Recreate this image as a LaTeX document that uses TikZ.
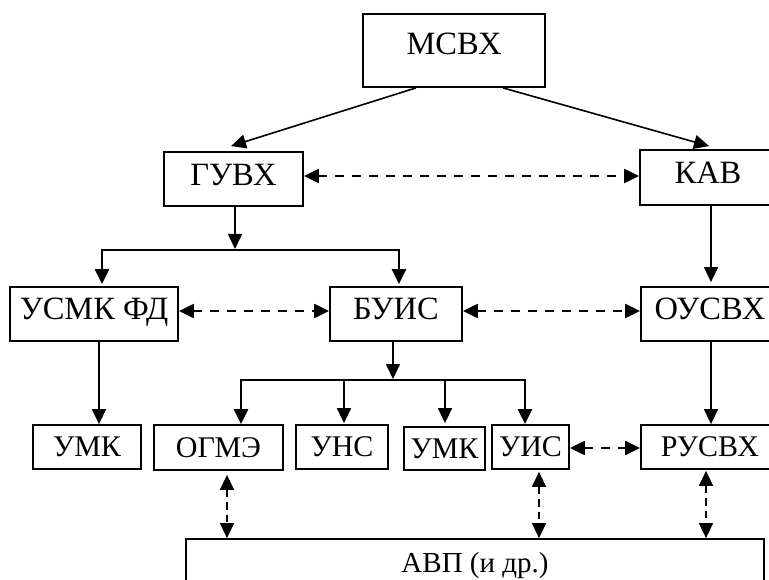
\documentclass[tikz,border=0pt]{standalone}
\usepackage{fontspec}
\setmainfont{Liberation Serif}
\usetikzlibrary{arrows.meta,calc}

\tikzset{
  box/.style={draw, line width=1.8pt, inner sep=0pt, align=center},
  bigtxt/.style={font=\fontsize{32.5}{38}\selectfont, text height=21.5pt},
  smalltxt/.style={font=\fontsize{30}{35}\selectfont, text height=19.9pt, text depth=0pt},
  arr/.style={line width=1.6pt, -{Triangle[length=15pt,width=14pt]}},
  tbar/.style={line width=2.6pt, line join=miter,
    {Triangle[length=15pt,width=14pt]}-{Triangle[length=15pt,width=14pt]}},
  darr/.style={line width=2.2pt, dash pattern=on 9pt off 8pt,
    {Triangle[length=15pt,width=14pt]}-{Triangle[length=15pt,width=14pt]}},
  vdarr/.style={line width=1.6pt, dash pattern=on 7.5pt off 5pt,
    {Triangle[length=15pt,width=14pt]}-{Triangle[length=15pt,width=14pt]}},
}

\begin{document}
\begin{tikzpicture}[x=1pt,y=-1pt]
  \useasboundingbox (0,0) rectangle (769,580);
  \clip (0,0) rectangle (769,580);

  % top level
  \node[box,bigtxt,text depth=13pt,minimum width=182pt,minimum height=73pt] (mcvx) at (454,50.5) {МСВХ};

  % second level
  \node[box,bigtxt,text depth=9pt,minimum width=139pt,minimum height=54pt] (guvx) at (233.5,179) {ГУВХ};
  \node[box,bigtxt,text depth=9pt,minimum width=136pt,minimum height=55pt] (kav) at (708,177.5) {КАВ};

  % third level
  \node[box,bigtxt,text depth=10pt,minimum width=168pt,minimum height=54pt] (usmk) at (94,314) {УСМК ФД};
  \node[box,bigtxt,text depth=10pt,minimum width=132pt,minimum height=54pt] (buis) at (396,314) {БУИС};
  \node[box,bigtxt,text depth=10pt,minimum width=138pt,minimum height=54pt] (ousvx) at (710,314) {ОУСВХ};

  % fourth level
  \node[box,smalltxt,minimum width=108pt,minimum height=44pt] (umk1) at (87,447) {УМК};
  \node[box,smalltxt,minimum width=129pt,minimum height=45pt] (ogme) at (218.5,447.5) {ОГМЭ};
  \node[box,smalltxt,minimum width=92pt,minimum height=44pt] (uns) at (342,447) {УНС};
  \node[box,smalltxt,minimum width=81pt,minimum height=43pt] (umk2) at (444.5,448.5) {УМК};
  \node[box,smalltxt,minimum width=77pt,minimum height=44pt] (uis) at (530.5,447) {УИС};
  \node[box,smalltxt,minimum width=138pt,minimum height=44pt] (rusvx) at (710,447) {РУСВХ};

  % bottom block
  \node[box,font=\fontsize{29}{34}\selectfont,text height=19.2pt,text depth=0pt,
        minimum width=578pt,minimum height=47pt] (avp) at (475,562.5) {АВП (и др.)};

  % branching points
  \coordinate (f1) at (235,250);
  \coordinate (b1l) at (102,250);
  \coordinate (b1r) at (399,250);
  \coordinate (f2) at (393,380);
  \coordinate (b2l) at (241,380);
  \coordinate (b2r) at (525,380);

  % subordination
  \draw[arr] ([xshift=-38pt]mcvx.south) -- ([xshift=-2.5pt,yshift=5pt]guvx.north);
  \draw[arr] ([xshift=49pt]mcvx.south) -- ([xshift=1pt,yshift=3pt]kav.north);

  \draw[arr] (guvx.south -| f1) -- ([yshift=1pt]f1);
  \draw[tbar] ([yshift=2pt]usmk.north -| b1l) -- (b1l) -- (b1r) -- ([yshift=2pt]buis.north -| b1r);

  \draw[arr] ([xshift=3pt]kav.south) -- ([xshift=3pt,yshift=4pt]kav.south |- ousvx.north);

  \draw[arr] ([xshift=5pt]usmk.south) -- ([xshift=5pt]usmk.south |- umk1.north);

  \draw[arr] (buis.south -| f2) -- ([yshift=1pt]f2);
  \draw[tbar] (ogme.north -| b2l) -- (b2l) -- (b2r) -- (uis.north -| b2r);
  \draw[arr] ([xshift=2pt]uns.north |- b2l) -- ([xshift=2pt,yshift=1pt]uns.north);
  \draw[arr] ([xshift=0.5pt]umk2.north |- b2l) -- ([xshift=0.5pt,yshift=3pt]umk2.north);

  \draw[arr] ([xshift=1pt]ousvx.south) -- ([xshift=1pt]ousvx.south |- rusvx.north);

  % interaction
  \draw[darr] ([yshift=3pt]guvx.east) -- ([yshift=3pt]guvx.east -| kav.west);
  \draw[darr] ([yshift=3pt]usmk.east) -- ([yshift=3pt]usmk.east -| buis.west);
  \draw[darr] ([yshift=3pt]buis.east) -- ([yshift=3pt]buis.east -| ousvx.west);
  \draw[darr] ([yshift=-1pt]uis.east) -- ([yshift=-1pt]uis.east -| rusvx.west);

  \draw[vdarr] ([xshift=8.5pt,yshift=-4pt]ogme.south) -- ([xshift=8.5pt]ogme.south |- avp.north);
  \draw[vdarr] ([xshift=8.5pt,yshift=-2pt]uis.south) -- ([xshift=8.5pt]uis.south |- avp.north);
  \draw[vdarr] ([xshift=-4pt,yshift=-1pt]rusvx.south) -- ([xshift=-4pt]rusvx.south |- avp.north);
\end{tikzpicture}
\end{document}
